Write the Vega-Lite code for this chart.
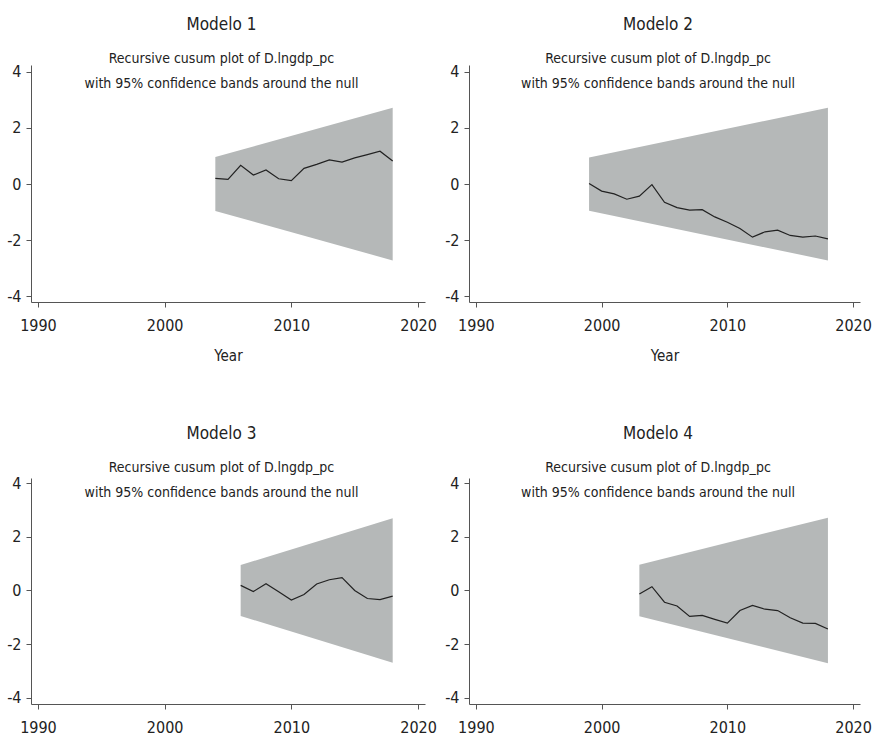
{
  "$schema": "https://vega.github.io/schema/vega-lite/v6.json",
  "padding": {"left": 6, "top": 15, "right": 0, "bottom": 0},
  "background": "white",
  "datasets": {
    "cusum": [
      {"model": "Modelo 1", "year": 2004, "cusum": 0.20},
      {"model": "Modelo 1", "year": 2005, "cusum": 0.17},
      {"model": "Modelo 1", "year": 2006, "cusum": 0.67},
      {"model": "Modelo 1", "year": 2007, "cusum": 0.32},
      {"model": "Modelo 1", "year": 2008, "cusum": 0.50},
      {"model": "Modelo 1", "year": 2009, "cusum": 0.19},
      {"model": "Modelo 1", "year": 2010, "cusum": 0.12},
      {"model": "Modelo 1", "year": 2011, "cusum": 0.56},
      {"model": "Modelo 1", "year": 2012, "cusum": 0.70},
      {"model": "Modelo 1", "year": 2013, "cusum": 0.86},
      {"model": "Modelo 1", "year": 2014, "cusum": 0.78},
      {"model": "Modelo 1", "year": 2015, "cusum": 0.93},
      {"model": "Modelo 1", "year": 2016, "cusum": 1.05},
      {"model": "Modelo 1", "year": 2017, "cusum": 1.17},
      {"model": "Modelo 1", "year": 2018, "cusum": 0.82},
      {"model": "Modelo 2", "year": 1999, "cusum": 0.02},
      {"model": "Modelo 2", "year": 2000, "cusum": -0.25},
      {"model": "Modelo 2", "year": 2001, "cusum": -0.35},
      {"model": "Modelo 2", "year": 2002, "cusum": -0.54},
      {"model": "Modelo 2", "year": 2003, "cusum": -0.43},
      {"model": "Modelo 2", "year": 2004, "cusum": -0.02},
      {"model": "Modelo 2", "year": 2005, "cusum": -0.65},
      {"model": "Modelo 2", "year": 2006, "cusum": -0.84},
      {"model": "Modelo 2", "year": 2007, "cusum": -0.93},
      {"model": "Modelo 2", "year": 2008, "cusum": -0.91},
      {"model": "Modelo 2", "year": 2009, "cusum": -1.17},
      {"model": "Modelo 2", "year": 2010, "cusum": -1.36},
      {"model": "Modelo 2", "year": 2011, "cusum": -1.58},
      {"model": "Modelo 2", "year": 2012, "cusum": -1.89},
      {"model": "Modelo 2", "year": 2013, "cusum": -1.70},
      {"model": "Modelo 2", "year": 2014, "cusum": -1.64},
      {"model": "Modelo 2", "year": 2015, "cusum": -1.83},
      {"model": "Modelo 2", "year": 2016, "cusum": -1.89},
      {"model": "Modelo 2", "year": 2017, "cusum": -1.85},
      {"model": "Modelo 2", "year": 2018, "cusum": -1.95},
      {"model": "Modelo 3", "year": 2006, "cusum": 0.19},
      {"model": "Modelo 3", "year": 2007, "cusum": -0.04},
      {"model": "Modelo 3", "year": 2008, "cusum": 0.25},
      {"model": "Modelo 3", "year": 2009, "cusum": -0.05},
      {"model": "Modelo 3", "year": 2010, "cusum": -0.36},
      {"model": "Modelo 3", "year": 2011, "cusum": -0.15},
      {"model": "Modelo 3", "year": 2012, "cusum": 0.24},
      {"model": "Modelo 3", "year": 2013, "cusum": 0.40},
      {"model": "Modelo 3", "year": 2014, "cusum": 0.48},
      {"model": "Modelo 3", "year": 2015, "cusum": 0.00},
      {"model": "Modelo 3", "year": 2016, "cusum": -0.30},
      {"model": "Modelo 3", "year": 2017, "cusum": -0.34},
      {"model": "Modelo 3", "year": 2018, "cusum": -0.21},
      {"model": "Modelo 4", "year": 2003, "cusum": -0.13},
      {"model": "Modelo 4", "year": 2004, "cusum": 0.14},
      {"model": "Modelo 4", "year": 2005, "cusum": -0.44},
      {"model": "Modelo 4", "year": 2006, "cusum": -0.58},
      {"model": "Modelo 4", "year": 2007, "cusum": -0.97},
      {"model": "Modelo 4", "year": 2008, "cusum": -0.93},
      {"model": "Modelo 4", "year": 2009, "cusum": -1.08},
      {"model": "Modelo 4", "year": 2010, "cusum": -1.22},
      {"model": "Modelo 4", "year": 2011, "cusum": -0.75},
      {"model": "Modelo 4", "year": 2012, "cusum": -0.56},
      {"model": "Modelo 4", "year": 2013, "cusum": -0.70},
      {"model": "Modelo 4", "year": 2014, "cusum": -0.75},
      {"model": "Modelo 4", "year": 2015, "cusum": -1.02},
      {"model": "Modelo 4", "year": 2016, "cusum": -1.22},
      {"model": "Modelo 4", "year": 2017, "cusum": -1.23},
      {"model": "Modelo 4", "year": 2018, "cusum": -1.44}
    ],
    "band": [
      {"model": "Modelo 1", "year": 2004, "lower": -0.96, "upper": 0.96},
      {"model": "Modelo 1", "year": 2018, "lower": -2.72, "upper": 2.72},
      {"model": "Modelo 2", "year": 1999, "lower": -0.95, "upper": 0.95},
      {"model": "Modelo 2", "year": 2018, "lower": -2.72, "upper": 2.72},
      {"model": "Modelo 3", "year": 2006, "lower": -0.95, "upper": 0.95},
      {"model": "Modelo 3", "year": 2018, "lower": -2.70, "upper": 2.70},
      {"model": "Modelo 4", "year": 2003, "lower": -0.96, "upper": 0.96},
      {"model": "Modelo 4", "year": 2018, "lower": -2.72, "upper": 2.72}
    ]
  },
  "config": {
    "font": "DejaVu Sans Condensed, Liberation Sans, sans-serif",
    "view": {"stroke": null},
    "axis": {
      "grid": false,
      "domainColor": "#555555",
      "tickColor": "#555555",
      "tickSize": 5,
      "labelColor": "#222222",
      "labelFont": "DejaVu Sans Condensed, Liberation Sans, sans-serif",
      "labelFontSize": 16,
      "titleFont": "DejaVu Sans Condensed, Liberation Sans, sans-serif",
      "titleFontSize": 15,
      "titleFontWeight": "normal",
      "titleColor": "#222222"
    },
    "title": {
      "font": "DejaVu Sans Condensed, Liberation Sans, sans-serif",
      "fontSize": 17,
      "fontWeight": "normal",
      "color": "#222222",
      "subtitleFont": "DejaVu Sans Condensed, Liberation Sans, sans-serif",
      "subtitleFontSize": 14,
      "subtitleColor": "#222222",
      "subtitleLineHeight": 25,
      "subtitlePadding": 18,
      "anchor": "middle",
      "frame": "bounds",
      "offset": -28
    }
  },
  "spacing": 62,
  "vconcat": [
    {
      "spacing": 7,
      "hconcat": [
        {
          "title": {"text": "Modelo 1", "subtitle": ["Recursive cusum plot of D.lngdp_pc", "with 95% confidence bands around the null"]},
          "width": 394, "height": 237,
          "layer": [
            {"data": {"name": "band"}, "transform": [{"filter": "datum.model === 'Modelo 1'"}], "mark": {"type": "area", "color": "#b5b8b8"},
             "encoding": {"x": {"field": "year", "type": "quantitative", "scale": {"domain": [1989.45, 2020.55], "nice": false, "zero": false}, "axis": {"values": [1990, 2000, 2010, 2020], "format": "d", "title": "Year", "labelPadding": 10, "titlePadding": 15}},
                          "y": {"field": "lower", "type": "quantitative", "scale": {"domain": [-4.2, 4.24], "nice": false, "zero": false}, "axis": {"values": [-4, -2, 0, 2, 4], "title": null, "labelExpr": "'' + datum.value", "labelPadding": 5}},
                          "y2": {"field": "upper"}}},
            {"data": {"name": "cusum"}, "transform": [{"filter": "datum.model === 'Modelo 1'"}], "mark": {"type": "line", "color": "#222222", "strokeWidth": 1.2},
             "encoding": {"x": {"field": "year", "type": "quantitative"}, "y": {"field": "cusum", "type": "quantitative"}}}
          ]
        },
        {
          "title": {"text": "Modelo 2", "subtitle": ["Recursive cusum plot of D.lngdp_pc", "with 95% confidence bands around the null"]},
          "width": 391, "height": 237,
          "layer": [
            {"data": {"name": "band"}, "transform": [{"filter": "datum.model === 'Modelo 2'"}], "mark": {"type": "area", "color": "#b5b8b8"},
             "encoding": {"x": {"field": "year", "type": "quantitative", "scale": {"domain": [1989.45, 2020.55], "nice": false, "zero": false}, "axis": {"values": [1990, 2000, 2010, 2020], "format": "d", "title": "Year", "labelPadding": 10, "titlePadding": 15}},
                          "y": {"field": "lower", "type": "quantitative", "scale": {"domain": [-4.2, 4.24], "nice": false, "zero": false}, "axis": {"values": [-4, -2, 0, 2, 4], "title": null, "labelExpr": "'' + datum.value", "labelPadding": 5}},
                          "y2": {"field": "upper"}}},
            {"data": {"name": "cusum"}, "transform": [{"filter": "datum.model === 'Modelo 2'"}], "mark": {"type": "line", "color": "#222222", "strokeWidth": 1.2},
             "encoding": {"x": {"field": "year", "type": "quantitative"}, "y": {"field": "cusum", "type": "quantitative"}}}
          ]
        }
      ]
    },
    {
      "spacing": 7,
      "hconcat": [
        {
          "title": {"text": "Modelo 3", "subtitle": ["Recursive cusum plot of D.lngdp_pc", "with 95% confidence bands around the null"], "offset": -26},
          "width": 394, "height": 226,
          "layer": [
            {"data": {"name": "band"}, "transform": [{"filter": "datum.model === 'Modelo 3'"}], "mark": {"type": "area", "color": "#b5b8b8"},
             "encoding": {"x": {"field": "year", "type": "quantitative", "scale": {"domain": [1989.45, 2020.55], "nice": false, "zero": false}, "axis": {"values": [1990, 2000, 2010, 2020], "format": "d", "title": null, "labelPadding": 10}},
                          "y": {"field": "lower", "type": "quantitative", "scale": {"domain": [-4.24, 4.2], "nice": false, "zero": false}, "axis": {"values": [-4, -2, 0, 2, 4], "title": null, "labelExpr": "'' + datum.value", "labelPadding": 5}},
                          "y2": {"field": "upper"}}},
            {"data": {"name": "cusum"}, "transform": [{"filter": "datum.model === 'Modelo 3'"}], "mark": {"type": "line", "color": "#222222", "strokeWidth": 1.2},
             "encoding": {"x": {"field": "year", "type": "quantitative"}, "y": {"field": "cusum", "type": "quantitative"}}}
          ]
        },
        {
          "title": {"text": "Modelo 4", "subtitle": ["Recursive cusum plot of D.lngdp_pc", "with 95% confidence bands around the null"], "offset": -26},
          "width": 391, "height": 226,
          "layer": [
            {"data": {"name": "band"}, "transform": [{"filter": "datum.model === 'Modelo 4'"}], "mark": {"type": "area", "color": "#b5b8b8"},
             "encoding": {"x": {"field": "year", "type": "quantitative", "scale": {"domain": [1989.45, 2020.55], "nice": false, "zero": false}, "axis": {"values": [1990, 2000, 2010, 2020], "format": "d", "title": null, "labelPadding": 10}},
                          "y": {"field": "lower", "type": "quantitative", "scale": {"domain": [-4.24, 4.2], "nice": false, "zero": false}, "axis": {"values": [-4, -2, 0, 2, 4], "title": null, "labelExpr": "'' + datum.value", "labelPadding": 5}},
                          "y2": {"field": "upper"}}},
            {"data": {"name": "cusum"}, "transform": [{"filter": "datum.model === 'Modelo 4'"}], "mark": {"type": "line", "color": "#222222", "strokeWidth": 1.2},
             "encoding": {"x": {"field": "year", "type": "quantitative"}, "y": {"field": "cusum", "type": "quantitative"}}}
          ]
        }
      ]
    }
  ]
}
